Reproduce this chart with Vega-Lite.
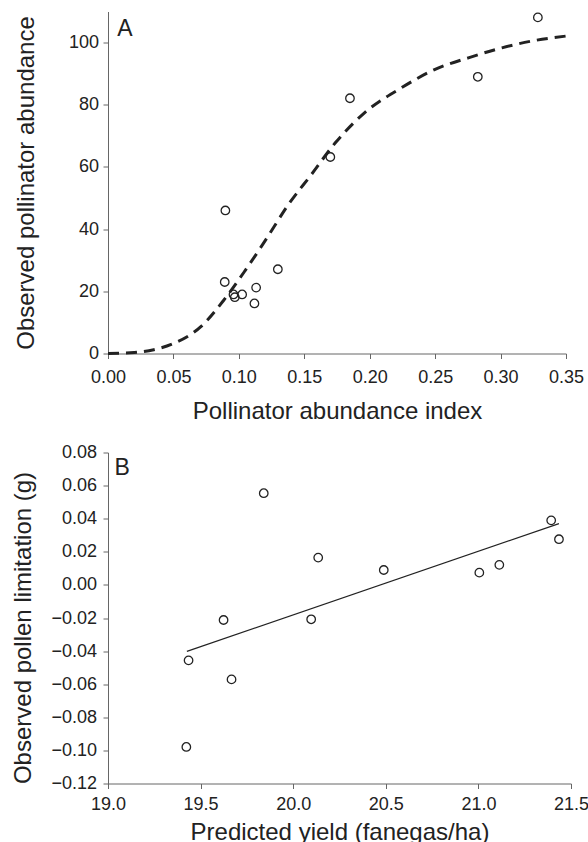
{
  "$schema": "https://vega.github.io/schema/vega-lite/v6.json",
  "padding": {"left": 10, "top": 10.5, "right": 0, "bottom": 0},
  "bounds": "flush",
  "spacing": 99,
  "background": "white",
  "config": {
    "view": {"stroke": null},
    "font": "Liberation Sans",
    "axis": {
      "grid": false,
      "domainColor": "#666",
      "tickColor": "#666",
      "labelColor": "#222",
      "titleColor": "#222",
      "labelFontSize": 18,
      "titleFontSize": 24,
      "titleFontWeight": "normal",
      "tickSize": 5,
      "labelOverlap": false,
      "labelFont": "Liberation Sans",
      "titleFont": "Liberation Sans"
    }
  },
  "datasets": {
    "curveA": [
      {"x": 0.0, "y": 0.0},
      {"x": 0.02, "y": 0.3},
      {"x": 0.035, "y": 1.2},
      {"x": 0.05, "y": 3.2},
      {"x": 0.0714, "y": 8.8},
      {"x": 0.088, "y": 16.9},
      {"x": 0.1045, "y": 26.5},
      {"x": 0.12, "y": 36.2},
      {"x": 0.138, "y": 48.0},
      {"x": 0.1555, "y": 57.6},
      {"x": 0.1734, "y": 67.6},
      {"x": 0.196, "y": 77.4},
      {"x": 0.2244, "y": 85.5},
      {"x": 0.25, "y": 91.4},
      {"x": 0.2754, "y": 95.1},
      {"x": 0.301, "y": 98.3},
      {"x": 0.3264, "y": 100.7},
      {"x": 0.35, "y": 102.1}
    ],
    "pointsA": [
      {"x": 0.0897, "y": 46.0},
      {"x": 0.0892, "y": 23.0},
      {"x": 0.0959, "y": 19.0},
      {"x": 0.0969, "y": 18.1},
      {"x": 0.1025, "y": 19.0},
      {"x": 0.1132, "y": 21.2},
      {"x": 0.1119, "y": 16.1},
      {"x": 0.1298, "y": 27.1},
      {"x": 0.1699, "y": 63.2},
      {"x": 0.1849, "y": 82.1},
      {"x": 0.2826, "y": 89.0},
      {"x": 0.3285, "y": 108.1}
    ],
    "pointsB": [
      {"x": 19.841, "y": 0.0554},
      {"x": 20.135, "y": 0.0165},
      {"x": 19.624, "y": -0.0212},
      {"x": 20.097, "y": -0.0208},
      {"x": 19.435, "y": -0.0456},
      {"x": 19.667, "y": -0.0571},
      {"x": 19.423, "y": -0.0979},
      {"x": 20.489, "y": 0.009},
      {"x": 21.005, "y": 0.0074},
      {"x": 21.113, "y": 0.0121},
      {"x": 21.393, "y": 0.039},
      {"x": 21.435, "y": 0.0276}
    ],
    "fitB": [
      {"x": 19.426, "y": -0.0402},
      {"x": 21.435, "y": 0.037}
    ]
  },
  "vconcat": [
    {
      "width": 458,
      "height": 342,
      "layer": [
        {
          "data": {"name": "curveA"},
          "mark": {"type": "line", "strokeDash": [11, 7], "strokeWidth": 3, "color": "#222", "interpolate": "monotone"},
          "encoding": {
            "x": {
              "field": "x", "type": "quantitative",
              "scale": {"domain": [0, 0.35], "nice": false},
              "axis": {
                "title": "Pollinator abundance index",
                "values": [0, 0.05, 0.1, 0.15, 0.2, 0.25, 0.3, 0.35],
                "tickCount": 30,
                "format": ".2f",
                "labelPadding": 10,
                "labelFlush": false,
                "labelOverlap": false,
                "titleBaseline": "alphabetic",
                "titleY": 65
              }
            },
            "y": {
              "field": "y", "type": "quantitative",
              "scale": {"domain": [0, 110], "nice": false},
              "axis": {
                "title": "Observed pollinator abundance",
                "values": [0, 20, 40, 60, 80, 100],
                "tickCount": 30,
                "labelPadding": 4.5,
                "labelOverlap": false,
                "titleBaseline": "alphabetic",
                "titleX": -75
              }
            }
          }
        },
        {
          "data": {"name": "pointsA"},
          "mark": {"type": "point", "shape": "circle", "filled": false, "size": 72, "strokeWidth": 1.3, "color": "#222", "opacity": 1},
          "encoding": {
            "x": {"field": "x", "type": "quantitative"},
            "y": {"field": "y", "type": "quantitative"}
          }
        },
        {
          "data": {"values": [{"label": "A"}]},
          "mark": {"type": "text", "align": "left", "baseline": "alphabetic", "fontSize": 23, "color": "#222"},
          "encoding": {
            "text": {"field": "label"},
            "x": {"datum": 0.0071},
            "y": {"datum": 102.1}
          }
        }
      ]
    },
    {
      "width": 463,
      "height": 331,
      "layer": [
        {
          "data": {"name": "fitB"},
          "mark": {"type": "line", "strokeWidth": 1.2, "color": "#222"},
          "encoding": {
            "x": {
              "field": "x", "type": "quantitative",
              "scale": {"domain": [19, 21.5], "nice": false, "zero": false},
              "axis": {
                "title": "Predicted yield (fanegas/ha)",
                "values": [19, 19.5, 20, 20.5, 21, 21.5],
                "tickCount": 30,
                "format": ".1f",
                "labelPadding": 6.5,
                "labelFlush": false,
                "labelOverlap": false,
                "titleBaseline": "alphabetic",
                "titleY": 56
              }
            },
            "y": {
              "field": "y", "type": "quantitative",
              "scale": {"domain": [-0.12, 0.08], "nice": false, "zero": false},
              "axis": {
                "title": "Observed pollen limitation (g)",
                "values": [-0.12, -0.1, -0.08, -0.06, -0.04, -0.02, 0, 0.02, 0.04, 0.06, 0.08],
                "tickCount": 30,
                "format": ".2f",
                "labelPadding": 6.5,
                "labelOverlap": false,
                "titleBaseline": "alphabetic",
                "titleX": -78,
                "titleY": 175
              }
            }
          }
        },
        {
          "data": {"name": "pointsB"},
          "mark": {"type": "point", "shape": "circle", "filled": false, "size": 72, "strokeWidth": 1.3, "color": "#222", "opacity": 1},
          "encoding": {
            "x": {"field": "x", "type": "quantitative"},
            "y": {"field": "y", "type": "quantitative"}
          }
        },
        {
          "data": {"values": [{"label": "B"}]},
          "mark": {"type": "text", "align": "left", "baseline": "alphabetic", "fontSize": 23, "color": "#222"},
          "encoding": {
            "text": {"field": "label"},
            "x": {"datum": 19.035},
            "y": {"datum": 0.0663}
          }
        }
      ]
    }
  ]
}
